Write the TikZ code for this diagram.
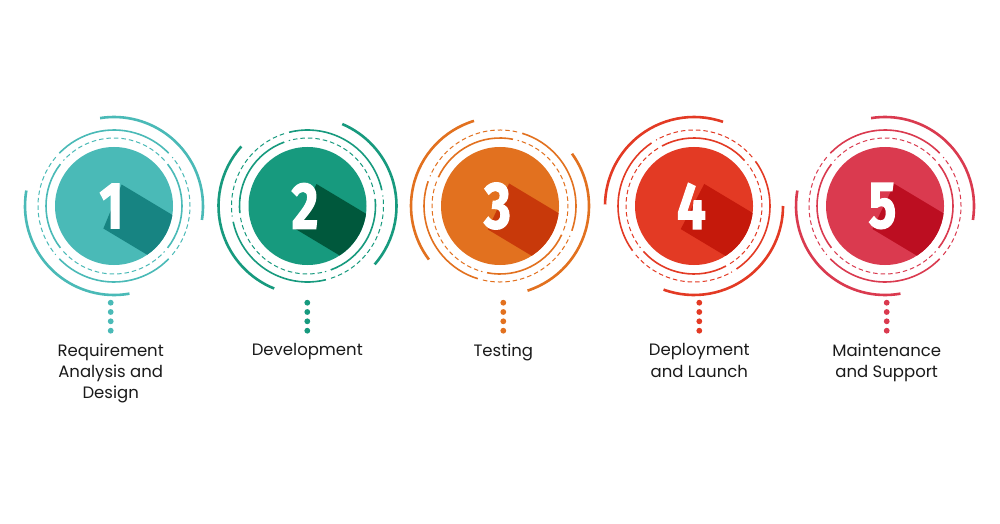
\documentclass[tikz,border=0pt]{standalone}
\usepackage{fontspec}
\setmainfont{Poppins}
\newfontfamily\digitfont[BoldFeatures={FakeBold=2}]{Fira Sans}
\usetikzlibrary{calc}
\definecolor{main1}{HTML}{4ABAB7}\definecolor{dark1}{HTML}{178482}
\definecolor{main2}{HTML}{179A7E}\definecolor{dark2}{HTML}{00583C}
\definecolor{main3}{HTML}{E2711F}\definecolor{dark3}{HTML}{C8390A}
\definecolor{main4}{HTML}{E33A24}\definecolor{dark4}{HTML}{C5190B}
\definecolor{main5}{HTML}{DA3A4F}\definecolor{dark5}{HTML}{BC0E21}
\definecolor{labelgray}{HTML}{1A1A1A}
\pgfdeclarelayer{bg}
\pgfsetlayers{bg,main}
\newcommand\myarc[5]{\draw[#5] ($(#1)+({#3}:#2)$) arc[start angle={#3}, end angle={#4}, radius=#2];}
\begin{document}
\begin{tikzpicture}[x=1pt,y=1pt,
  outerarc/.style={line width=2.6pt},
  ringsolid/.style={line width=1.6pt},
  ringdash/.style={line width=1pt, dash pattern=on 4.5pt off 3pt},
  stagelabel/.style={font=\fontsize{16.5}{21.3}\selectfont, align=center, text=labelgray, anchor=north, inner sep=0pt},
  digitstyle/.style={font=\digitfont\bfseries\fontsize{66}{66}\selectfont, text=white, inner sep=0pt}]
\useasboundingbox (0,0) rectangle (1000,523);
\begin{pgfonlayer}{bg}
\fill[white] (0,0) rectangle (1000,523);
\end{pgfonlayer}
\foreach \i/\cx/\rot/\dx/\num/\lab in {
  1/114/0/110.7/1/{Requirement\\Analysis and\\Design},
  2/307.5/-32/307.3/2/{Development},
  3/500/-63/503.3/3/{Testing},
  4/694/80/699.3/4/{Deployment\\and Launch},
  5/885/0/886.7/5/{Maintenance\\and Support}}{
  \coordinate (c\i) at (\cx,317);
  \node[digitstyle] (d\i) at (\cx-2.5,317) {\scalebox{0.78}[1]{\num}};
  \begin{pgfonlayer}{bg}
    \fill[main\i] (c\i) circle[radius=59];
    \begin{scope}
      \clip (c\i) circle[radius=59];
      \fill[dark\i] ($(d\i.north east)+(-2,-1)$) -- ++(170,-102) -- ($(d\i.south west)+(174,-102)$) -- ($(d\i.south west)+(4,0)$) -- cycle;
    \end{scope}
  \end{pgfonlayer}
  % outer arcs
  \myarc{c\i}{89}{-9+\rot}{99+\rot}{outerarc,main\i}
  \myarc{c\i}{89}{170+\rot}{280+\rot}{outerarc,main\i}
  % ring A
  \myarc{c\i}{68}{-38+\rot}{38+\rot}{ringsolid,main\i}
  \myarc{c\i}{68}{142+\rot}{218+\rot}{ringsolid,main\i}
  \myarc{c\i}{68}{42+\rot}{138+\rot}{ringdash,main\i}
  \myarc{c\i}{68}{222+\rot}{318+\rot}{ringdash,main\i}
  % ring B
  \myarc{c\i}{76}{44+\rot}{136+\rot}{ringsolid,main\i}
  \myarc{c\i}{76}{224+\rot}{316+\rot}{ringsolid,main\i}
  \myarc{c\i}{76}{-40+\rot}{40+\rot}{ringdash,main\i}
  \myarc{c\i}{76}{140+\rot}{220+\rot}{ringdash,main\i}
  % dots
  \foreach \k in {220.3,211,201.7,192.3}{
    \fill[main\i] (\dx,\k) circle[radius=2.9];
  }
  \node[stagelabel] (l\i) at (\dx,179.5) {\lab};
}
\end{tikzpicture}
\end{document}
